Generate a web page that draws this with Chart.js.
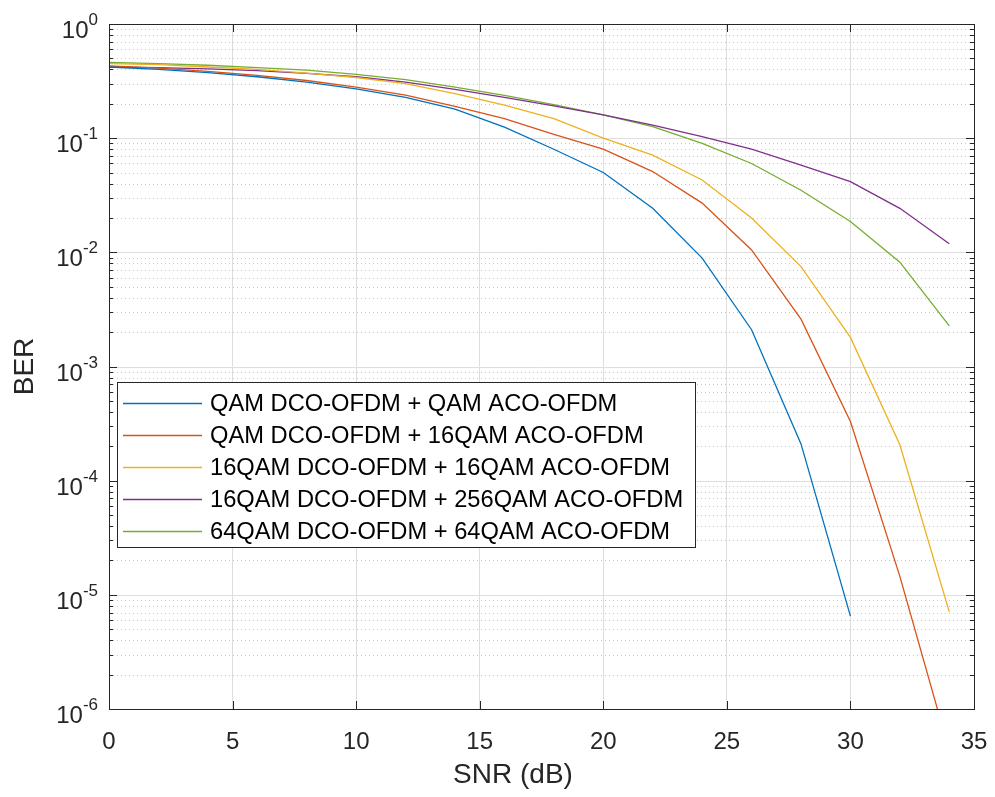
<!DOCTYPE html>
<html>
<head>
<meta charset="utf-8">
<script src="https://cdn.jsdelivr.net/npm/chart.js@4/dist/chart.umd.min.js"></script>
<style>
  html, body { margin: 0; padding: 0; background: #fff; }
  #wrap { width: 995px; height: 797px; }
</style>
</head>
<body>
<div id="wrap"><canvas id="chart" width="995" height="797"></canvas></div>
<script>
// ---------- data ----------
const snr = [0, 2, 4, 6, 8, 10, 12, 14, 16, 18, 20, 22, 24, 26, 28, 30, 32, 34];

const berQamQam = [0.42, 0.40, 0.375, 0.345, 0.31, 0.27, 0.228, 0.18, 0.125, 0.08, 0.05, 0.0243, 0.0089, 0.0021, 2.1e-4, 6.5e-6];
const berQam16 = [0.43, 0.41, 0.385, 0.355, 0.32, 0.28, 0.238, 0.19, 0.148, 0.108, 0.08, 0.051, 0.027, 0.0105, 0.0026, 3.3e-4, 1.45e-5, 4.3e-7];
const ber16_16 = [0.45, 0.44, 0.42, 0.40, 0.372, 0.34, 0.30, 0.245, 0.195, 0.148, 0.10, 0.071, 0.043, 0.020, 0.0075, 0.0018, 2.06e-4, 7.1e-6];
const ber16_256 = [0.42, 0.415, 0.405, 0.39, 0.37, 0.345, 0.31, 0.268, 0.228, 0.192, 0.16, 0.13, 0.103, 0.080, 0.058, 0.0416, 0.0243, 0.0119];
const ber64_64 = [0.46, 0.45, 0.435, 0.415, 0.395, 0.362, 0.325, 0.28, 0.237, 0.197, 0.16, 0.126, 0.09, 0.060, 0.035, 0.0186, 0.0082, 0.00227];

const seriesNames = [
  'QAM DCO-OFDM + QAM ACO-OFDM',
  'QAM DCO-OFDM + 16QAM ACO-OFDM',
  '16QAM DCO-OFDM + 16QAM ACO-OFDM',
  '16QAM DCO-OFDM + 256QAM ACO-OFDM',
  '64QAM DCO-OFDM + 64QAM ACO-OFDM',
];
const seriesValues = [berQamQam, berQam16, ber16_16, ber16_256, ber64_64];
const seriesColors = ['#0072BD', '#D95319', '#EDB120', '#7E2F8E', '#77AC30'];

const xTicks = [0, 5, 10, 15, 20, 25, 30, 35];
const yExps = [0, -1, -2, -3, -4, -5, -6];

const FONT = '"Liberation Sans", Arial, sans-serif';
const INK = '#262626';

// ---------- helpers ----------
function pts(vals) {
  return vals.map((v, i) => ({ x: snr[i], y: v }));
}

// grid under the curves: solid decades, dotted minors
const gridPlugin = {
  id: 'matlabGrid',
  beforeDatasetsDraw(chart) {
    const { ctx, chartArea: a, scales: { y } } = chart;
    ctx.save();
    ctx.lineWidth = 1;
    yExps.forEach(e => {
      const base = Math.pow(10, e);
      // minor lines inside this decade
      if (e > -6) {
        ctx.strokeStyle = '#c8c8c8';
        ctx.setLineDash([1, 3]);
        for (let m = 2; m <= 9; m++) {
          const py = Math.round(y.getPixelForValue(base / 10 * m)) + 0.5;
          ctx.beginPath(); ctx.moveTo(a.left, py); ctx.lineTo(a.right, py); ctx.stroke();
        }
      }
      ctx.setLineDash([]);
      ctx.strokeStyle = '#dedede';
      const py = Math.round(y.getPixelForValue(base)) + 0.5;
      ctx.beginPath(); ctx.moveTo(a.left, py); ctx.lineTo(a.right, py); ctx.stroke();
    });
    ctx.restore();
  }
};

// box, inward ticks, labels, legend
const framePlugin = {
  id: 'matlabFrame',
  afterDatasetsDraw(chart) {
    const { ctx, chartArea: a, scales: { x, y } } = chart;
    ctx.save();

    // axes box
    ctx.strokeStyle = INK;
    ctx.lineWidth = 1;
    ctx.strokeRect(a.left + 0.5, a.top + 0.5, a.right - a.left, a.bottom - a.top);

    // x ticks, bottom and top
    ctx.beginPath();
    xTicks.forEach(t => {
      const px = Math.round(x.getPixelForValue(t)) + 0.5;
      ctx.moveTo(px, a.bottom); ctx.lineTo(px, a.bottom - 8);
      ctx.moveTo(px, a.top); ctx.lineTo(px, a.top + 8);
    });
    // y ticks, left and right
    yExps.forEach(e => {
      const base = Math.pow(10, e);
      let py = Math.round(y.getPixelForValue(base)) + 0.5;
      ctx.moveTo(a.left, py); ctx.lineTo(a.left + 8, py);
      ctx.moveTo(a.right, py); ctx.lineTo(a.right - 8, py);
      if (e > -6) {
        for (let m = 2; m <= 9; m++) {
          py = Math.round(y.getPixelForValue(base / 10 * m)) + 0.5;
          ctx.moveTo(a.left, py); ctx.lineTo(a.left + 4, py);
          ctx.moveTo(a.right, py); ctx.lineTo(a.right - 4, py);
        }
      }
    });
    ctx.stroke();

    ctx.fillStyle = INK;

    // x tick labels
    ctx.font = `24px ${FONT}`;
    ctx.textAlign = 'center';
    ctx.textBaseline = 'alphabetic';
    xTicks.forEach(t => ctx.fillText(String(t), x.getPixelForValue(t), a.bottom + 40));

    // y tick labels: 10 with superscript exponent
    yExps.forEach(e => {
      const gy = y.getPixelForValue(Math.pow(10, e));
      const sup = String(e);
      ctx.font = `17px ${FONT}`;
      ctx.textAlign = 'right';
      const supW = ctx.measureText(sup).width;
      ctx.fillText(sup, a.left - 11, gy + 1);
      ctx.font = `24px ${FONT}`;
      ctx.fillText('10', a.left - 11 - supW, gy + 14);
    });

    // axis titles
    ctx.font = `28px ${FONT}`;
    ctx.textAlign = 'center';
    ctx.fillText('SNR (dB)', 513, 783);
    ctx.save();
    ctx.translate(33, (a.top + a.bottom) / 2);
    ctx.rotate(-Math.PI / 2);
    ctx.fillText('BER', 0, 0);
    ctx.restore();

    // legend
    const lx = 117, ly = 382, lw = 578, lh = 165;
    ctx.fillStyle = '#fff';
    ctx.fillRect(lx, ly, lw, lh);
    ctx.strokeStyle = INK;
    ctx.strokeRect(lx + 0.5, ly + 0.5, lw, lh);
    ctx.font = `23.7px ${FONT}`;
    ctx.textAlign = 'left';
    ctx.textBaseline = 'middle';
    chart.data.datasets.forEach((ds, i) => {
      const ry = 403 + 32 * i;
      ctx.strokeStyle = ds.borderColor;
      ctx.lineWidth = 1.3;
      ctx.beginPath(); ctx.moveTo(123, ry + 0.5); ctx.lineTo(202, ry + 0.5); ctx.stroke();
      ctx.fillStyle = '#000';
      ctx.fillText(ds.label, 210, ry + 1);
    });

    ctx.restore();
  }
};

// ---------- chart ----------
const datasets = seriesNames.map((name, i) => ({
  label: name,
  data: pts(seriesValues[i]),
  borderColor: seriesColors[i],
  backgroundColor: seriesColors[i],
  borderWidth: 1.3,
  pointRadius: 0,
  tension: 0,
  fill: false,
}));

new Chart(document.getElementById('chart'), {
  type: 'line',
  data: { datasets },
  options: {
    responsive: false,
    animation: false,
    events: [],
    layout: { padding: { top: 24, right: 21, left: 0, bottom: 0 } },
    plugins: { legend: { display: false }, tooltip: { enabled: false } },
    scales: {
      x: {
        type: 'linear', min: 0, max: 35,
        ticks: { stepSize: 5, display: false },
        grid: { color: '#dedede', drawTicks: false },
        border: { display: false },
        afterFit: s => { s.height = 88; },
      },
      y: {
        type: 'logarithmic', min: 1e-6, max: 1,
        ticks: { display: false },
        grid: { display: false },
        border: { display: false },
        afterFit: s => { s.width = 109; },
      },
    },
  },
  plugins: [gridPlugin, framePlugin],
});
</script>
</body>
</html>
